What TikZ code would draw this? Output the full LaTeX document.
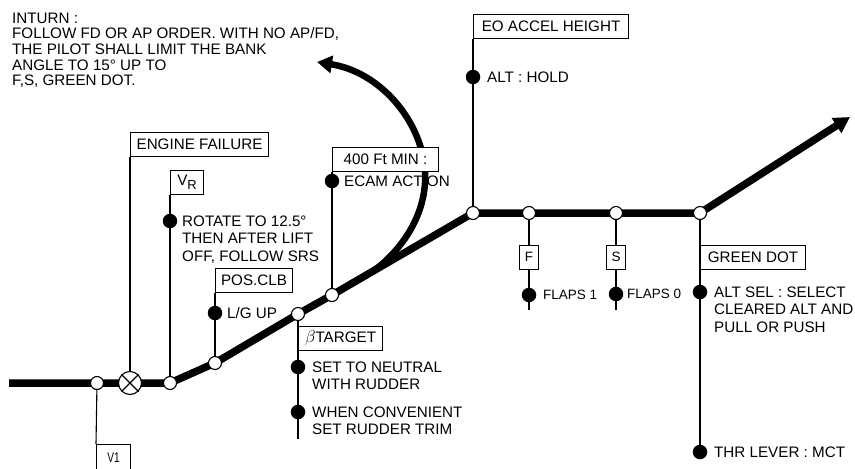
\documentclass[tikz,border=0pt]{standalone}
\usepackage{fontspec}
\setmainfont{Liberation Sans}
\usetikzlibrary{arrows.meta}
\pgfdeclarelayer{bg}
\pgfsetlayers{bg,main}
\begin{document}
\begin{tikzpicture}[x=1pt,y=-1pt,
  thickline/.style={line width=7.5pt},
  curvearrow/.style={line width=6.5pt,-{Triangle[length=15pt,width=17pt]}},
  mainarrow/.style={line width=7.5pt,line join=round,-{Triangle[length=16pt,width=17pt]}},
  thinline/.style={line width=1.1pt},
  openc/.style={circle,draw,line width=1.1pt,fill=white,minimum size=13pt,inner sep=0pt},
  crossc/.style={circle,draw,line width=1.1pt,fill=white,minimum size=23pt,inner sep=0pt},
  dotc/.style={circle,fill=black,minimum size=14.5pt,inner sep=0pt},
  bx/.style={draw,line width=1.1pt,fill=white,minimum height=23.5pt,inner sep=0pt,font=\fontsize{15.2}{17}\selectfont},
  smallbx/.style={bx,font=\fontsize{13.5}{15}\selectfont},
  txt/.style={inner sep=0pt,align=left,anchor=north west,font=\fontsize{15.2}{17.5}\selectfont},
  smalltxt/.style={inner sep=0pt,anchor=north west,font=\fontsize{13.5}{15}\selectfont}]
\useasboundingbox (0,0) rectangle (855,469);

% points on the flight path
\coordinate (start) at (9,383);
\coordinate (pV1) at (97,383);
\coordinate (pEF) at (130,383);
\coordinate (pVR) at (170,383);
\coordinate (pPC) at (215,363);
\coordinate (pBT) at (298,314);
\coordinate (p400) at (332,295);
\coordinate (pEO) at (473,213);
\coordinate (pF) at (529,213);
\coordinate (pS) at (616,213);
\coordinate (pGD) at (700,213);
\coordinate (tip) at (850,117);
\coordinate (cstart) at (372,272);
\coordinate (cmid) at (425,170);
\coordinate (ctip) at (317,62);
\coordinate (btend) at (298,439);
\coordinate (fend) at (529,310);
\coordinate (send) at (616,310);

% top-left text
\node[txt,font=\fontsize{15.2}{15.7}\selectfont] (inturn) at (12,12.5)
  {INTURN :\\FOLLOW FD OR AP ORDER. WITH NO AP/FD,\\THE PILOT SHALL LIMIT THE BANK\\ANGLE TO 15° UP TO\\F,S, GREEN DOT.};

% dots and their texts
\node[dotc] (dROT) at (170,221) {};
\node[txt] (tROT) at (182,215.5) {ROTATE TO 12.5°\\THEN AFTER LIFT\\OFF, FOLLOW SRS};
\node[dotc] (dLG) at (215,313) {};
\node[txt] (tLG) at (227,307.5) {L/G UP};
\node[dotc] (dECAM) at (332,181) {};
\node[txt] (tECAM) at (344,175.5) {ECAM ACTION};
\node[dotc] (dNEU) at (298,367) {};
\node[txt] (tNEU) at (312,361.5) {SET TO NEUTRAL\\WITH RUDDER};
\node[dotc] (dTRIM) at (298,412) {};
\node[txt] (tTRIM) at (312,406.5) {WHEN CONVENIENT\\SET RUDDER TRIM};
\node[dotc] (dALT) at (473,77) {};
\node[txt] (tALT) at (487,71.5) {ALT : HOLD};
\node[dotc] (dF1) at (529,295) {};
\node[smalltxt] (tF1) at (543,290) {FLAPS 1};
\node[dotc] (dF0) at (616,294) {};
\node[smalltxt] (tF0) at (627,289) {FLAPS 0};
\node[dotc] (dSEL) at (700,292) {};
\node[txt] (tSEL) at (714,286.5) {ALT SEL : SELECT\\CLEARED ALT AND\\PULL OR PUSH};
\node[dotc] (dTHR) at (700,452) {};
\node[txt] (tTHR) at (714,446.5) {THR LEVER : MCT};

% thick flight path with arrow
\draw[mainarrow] (start) -- (pV1) -- (pEF) -- (pVR) -- (pPC) -- (pBT) -- (p400) -- (pEO) -- (pF) -- (pS) -- (pGD) -- (tip);
% turn arrow
\draw[curvearrow] (cstart) .. controls (400,252) and (428,215) .. (cmid) .. controls (421,120) and (380,72) .. (ctip);

% boxes
\node[bx,minimum width=138pt,anchor=north west] (bEF) at (130,132) {ENGINE FAILURE};
\node[bx,minimum width=33pt,anchor=north west] (bVR) at (170,170) {V\raisebox{-3.5pt}{\fontsize{13}{13}\selectfont R}};
\node[bx,minimum width=77pt,anchor=north west] (bPC) at (215,268) {POS.CLB};
\node[bx,minimum width=106pt,anchor=north west] (b400) at (332,147) {400 Ft MIN :};
\node[bx,minimum width=84pt,anchor=north west] (bBT) at (298,326) {{\fontsize{19}{19}\selectfont$\beta$}TARGET};
\node[bx,minimum width=155pt,anchor=north west] (bEO) at (473,14) {EO ACCEL HEIGHT};
\node[smallbx,minimum width=19pt,anchor=north] (bF) at (529,245) {F};
\node[smallbx,minimum width=19pt,anchor=north] (bS) at (616,245) {S};
\node[bx,minimum width=105pt,anchor=north west] (bGD) at (700,245) {GREEN DOT};
\node[bx,minimum width=34pt,inner ysep=0pt,text height=18pt,text depth=12pt,anchor=north west,font=\fontsize{14}{15}\selectfont] (bV1) at (96,444) {\scalebox{0.72}[1]{V1}};

% open circles on the path
\node[openc] (cV1) at (pV1) {};
\node[crossc] (cEF) at (pEF) {};
\draw[thinline] (cEF.north west) -- (cEF.south east) (cEF.north east) -- (cEF.south west);
\node[openc] (cVR) at (pVR) {};
\node[openc] (cPC) at (pPC) {};
\node[openc] (cBT) at (pBT) {};
\node[openc] (c400) at (p400) {};
\node[openc] (cEO) at (pEO) {};
\node[openc] (cF) at (pF) {};
\node[openc] (cS) at (pS) {};
\node[openc] (cGD) at (pGD) {};

% thin connectors (behind)
\begin{pgfonlayer}{bg}
\draw[thinline] (pV1) -- (bV1.north west);
\draw[thinline] (pEF) -- (bEF.south west);
\draw[thinline] (pVR) -- (bVR.south west);
\draw[thinline] (pPC) -- (bPC.south west);
\draw[thinline] (pBT) -- (btend);
\draw[thinline] (p400) -- (b400.south west);
\draw[thinline] (pEO) -- (bEO.south west);
\draw[thinline] (pF) -- (bF.north);
\draw[thinline] (bF.south) -- (fend);
\draw[thinline] (pS) -- (bS.north);
\draw[thinline] (bS.south) -- (send);
\draw[thinline] (pGD) -- (dTHR);
\end{pgfonlayer}
\end{tikzpicture}
\end{document}
